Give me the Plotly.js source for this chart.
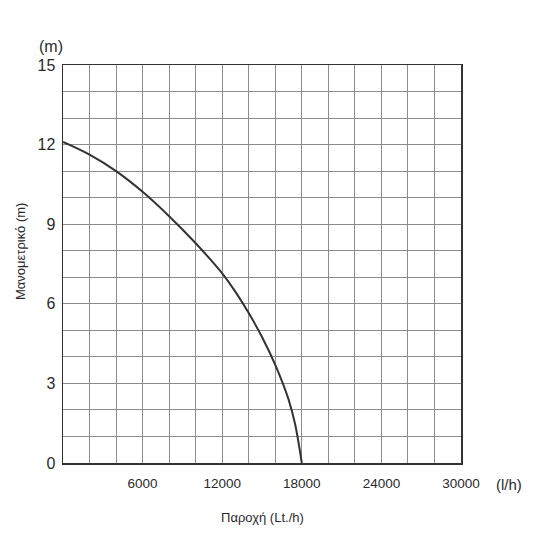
<!DOCTYPE html>
<html>
<head>
<meta charset="utf-8">
<script src="https://cdn.plot.ly/plotly-3.0.1.min.js"></script>
<style>
  html, body { margin: 0; padding: 0; background: #fff; }
  #chart { width: 550px; height: 550px; }
</style>
</head>
<body>
<div id="chart"></div>
<script>
// Pump curve: flow (l/h) against head (m)
var flowValues = [0, 2000, 4000, 6000, 8000, 10000, 12000, 13000, 14000, 15000, 16000, 17000, 17500, 18000]
var headValues = [12.1, 11.62, 11.0, 10.22, 9.3, 8.28, 7.15, 6.45, 5.65, 4.75, 3.7, 2.4, 1.45, 0]

var xTickVals = [0, 6000, 12000, 18000, 24000, 30000]
var xTickText = ['', '6000', '12000', '18000', '24000', '30000']
var yTickVals = [0, 3, 6, 9, 12, 15]

var xTitle = 'Παροχή (Lt./h)'
var yTitle = 'Μανομετρικό (m)'
var xUnit = '(l/h)'
var yUnit = '(m)'

var fontName = '"Liberation Sans", Arial, sans-serif'
var gridGrey = '#8c8c8c'
var inkColor = '#2b2b2b'

var curve = {
  x: flowValues,
  y: headValues,
  mode: 'lines',
  type: 'scatter',
  line: { color: '#333333', width: 2, shape: 'spline', smoothing: 1 },
  hoverinfo: 'skip'
}

var layout = {
  width: 550,
  height: 550,
  margin: { l: 63, r: 89, t: 65, b: 87 },
  paper_bgcolor: '#ffffff',
  plot_bgcolor: '#ffffff',
  showlegend: false,
  font: { family: fontName, color: inkColor },
  xaxis: {
    range: [0, 30000],
    tickmode: 'array',
    tickvals: xTickVals,
    ticktext: xTickText,
    ticks: '',
    tickfont: { size: 13.5, color: inkColor },
    ticklabelstandoff: 7,
    showgrid: true,
    gridcolor: gridGrey,
    gridwidth: 1,
    minor: { tick0: 0, dtick: 2000, showgrid: true, gridcolor: gridGrey, gridwidth: 1, ticks: '' },
    showline: true,
    mirror: true,
    linecolor: '#333333',
    linewidth: 1.5,
    zeroline: false,
    fixedrange: true
  },
  yaxis: {
    range: [0, 15],
    tickmode: 'array',
    tickvals: yTickVals,
    ticks: '',
    tickfont: { size: 16, color: inkColor },
    ticklabelstandoff: 3,
    showgrid: true,
    gridcolor: gridGrey,
    gridwidth: 1,
    minor: { tick0: 0, dtick: 1, showgrid: true, gridcolor: gridGrey, gridwidth: 1, ticks: '' },
    showline: true,
    mirror: true,
    linecolor: '#333333',
    linewidth: 1.5,
    zeroline: false,
    fixedrange: true
  },
  annotations: [
    { text: yUnit, xref: 'paper', yref: 'paper', x: -0.03, y: 1.047, xanchor: 'center', yanchor: 'middle',
      showarrow: false, font: { size: 16, color: inkColor } },
    { text: xUnit, xref: 'paper', yref: 'paper', x: 1.12, y: -0.055, xanchor: 'center', yanchor: 'middle',
      showarrow: false, font: { size: 15, color: inkColor } },
    { text: xTitle, xref: 'paper', yref: 'paper', x: 0.5, y: -0.137, xanchor: 'center', yanchor: 'middle',
      showarrow: false, font: { size: 13, color: inkColor } },
    { text: yTitle, xref: 'paper', yref: 'paper', x: -0.108, y: 0.53, xanchor: 'center', yanchor: 'middle',
      textangle: -90, showarrow: false, font: { size: 13, color: inkColor } }
  ]
}

Plotly.newPlot('chart', [curve], layout, { staticPlot: true, displayModeBar: false })
</script>
</body>
</html>
